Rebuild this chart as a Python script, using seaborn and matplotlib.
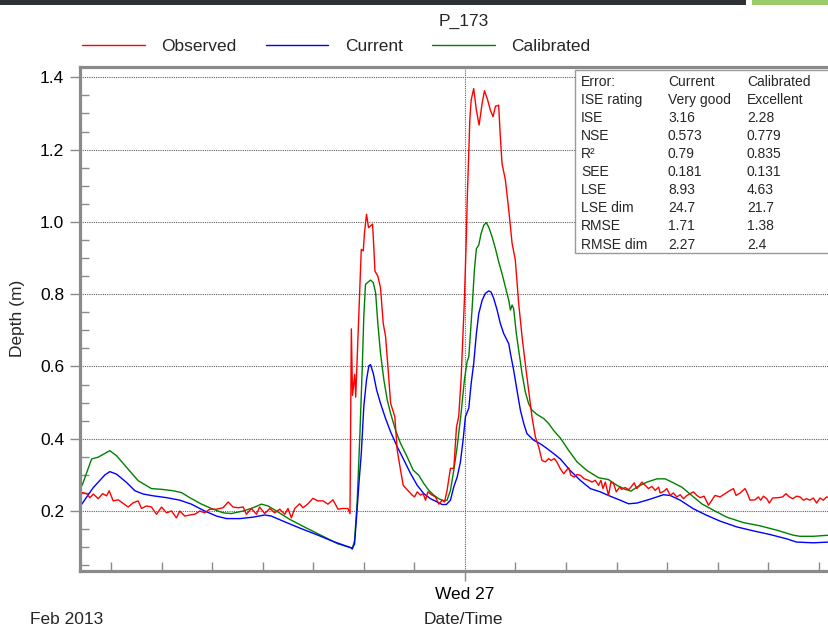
import matplotlib
matplotlib.use("Agg")
import numpy as np
import pandas as pd
import seaborn as sns
import matplotlib.pyplot as plt
import matplotlib.dates as mdates
from matplotlib.ticker import MultipleLocator, FormatStrFormatter
from matplotlib.patches import Rectangle
from matplotlib.lines import Line2D

# ---------------- data (hours after 2013-02-26 00:00, depth in m) ----------------
obs_hours = [1.2, 1.31, 1.55, 1.75, 1.95, 2.24, 2.50, 2.74, 2.89, 3.13, 3.43, 3.72, 4.02, 4.32, 4.61,
             4.81, 5.11, 5.40, 5.70, 6.00, 6.29, 6.59, 6.88, 7.08, 7.38, 7.67, 7.97, 8.27, 8.56,
             8.86, 9.26, 9.65, 9.95, 10.24, 10.54, 10.84, 11.03, 11.33, 11.63, 11.82, 12.12, 12.42,
             12.71, 13.01, 13.31, 13.50, 13.70, 13.90, 14.19, 14.39, 14.69, 14.98, 15.28, 15.58,
             15.87, 16.17, 16.47, 16.76, 17.06, 17.18, 17.26, 17.33, 17.46, 17.52, 17.85, 17.97,
             18.04, 18.16, 18.28, 18.40, 18.52, 18.60, 18.66, 18.83, 18.99, 19.15, 19.29, 19.43,
             19.59, 19.84, 19.98, 20.18, 20.34, 20.57, 20.87, 21.01, 21.17, 21.36, 21.52, 21.66,
             21.80, 22.05, 22.25, 22.45, 22.65, 22.79, 22.94, 23.14, 23.34, 23.50, 23.63, 23.77,
             23.89, 23.97, 24.09, 24.13, 24.29, 24.37, 24.52, 24.68, 24.84, 25.02, 25.16, 25.35,
             25.51, 25.67, 25.81, 26.00, 26.10, 26.20, 26.40, 26.60, 26.80, 26.99, 27.19, 27.39,
             27.58, 27.78, 27.98, 28.18, 28.38, 28.57, 28.77, 28.97, 29.11, 29.30, 29.46, 29.66,
             29.86, 30.01, 30.15, 30.29, 30.49, 30.65, 30.84, 31.08, 31.34, 31.54, 31.73, 31.93,
             32.07, 32.19, 32.33, 32.52, 32.66, 32.82, 32.98, 33.18, 33.31, 33.51, 33.71, 33.85,
             34.04, 34.20, 34.50, 34.70, 34.89, 35.09, 35.29, 35.49, 35.58, 35.78, 35.98, 36.18,
             36.37, 36.57, 36.77, 36.97, 37.17, 37.36, 37.56, 37.76, 37.96, 38.19, 38.45, 38.65,
             38.84, 39.14, 39.44, 39.73, 39.93, 40.09, 40.33, 40.62, 40.72, 40.92, 41.21, 41.41,
             41.55, 41.71, 41.91, 42.06, 42.26, 42.60, 42.85, 43.05, 43.25, 43.45, 43.68, 43.88,
             44.08, 44.28, 44.47, 44.67, 44.87, 45.07, 45.26, 45.46, 45.60, 45.90, 46.20, 46.70]
obs_depth = [0.245, 0.251, 0.248, 0.237, 0.247, 0.234, 0.248, 0.242, 0.256, 0.228, 0.231, 0.221, 0.211,
             0.223, 0.228, 0.207, 0.214, 0.211, 0.191, 0.211, 0.195, 0.200, 0.181, 0.200, 0.186,
             0.189, 0.191, 0.200, 0.195, 0.205, 0.205, 0.209, 0.225, 0.211, 0.209, 0.211, 0.191,
             0.207, 0.191, 0.211, 0.193, 0.207, 0.195, 0.205, 0.191, 0.207, 0.181, 0.207, 0.220,
             0.209, 0.220, 0.235, 0.228, 0.228, 0.219, 0.231, 0.205, 0.207, 0.207, 0.193, 0.704,
             0.520, 0.578, 0.515, 0.924, 0.920, 0.970, 1.021, 0.984, 0.989, 0.994, 0.924, 0.864,
             0.850, 0.818, 0.720, 0.683, 0.600, 0.498, 0.461, 0.369, 0.313, 0.271, 0.259, 0.244,
             0.239, 0.253, 0.244, 0.248, 0.230, 0.253, 0.244, 0.239, 0.219, 0.230, 0.225, 0.257,
             0.318, 0.318, 0.433, 0.461, 0.563, 0.693, 0.785, 0.970, 1.051, 1.282, 1.337, 1.369,
             1.309, 1.268, 1.328, 1.363, 1.337, 1.309, 1.291, 1.320, 1.323, 1.236, 1.162, 1.116,
             1.033, 0.940, 0.894, 0.774, 0.682, 0.608, 0.534, 0.460, 0.405, 0.377, 0.340, 0.336,
             0.345, 0.340, 0.345, 0.335, 0.317, 0.303, 0.312, 0.320, 0.299, 0.294, 0.301, 0.299,
             0.289, 0.285, 0.280, 0.285, 0.271, 0.285, 0.262, 0.280, 0.243, 0.280, 0.276, 0.253,
             0.266, 0.260, 0.265, 0.259, 0.266, 0.278, 0.262, 0.280, 0.271, 0.262, 0.268, 0.257,
             0.266, 0.250, 0.254, 0.262, 0.243, 0.250, 0.239, 0.245, 0.234, 0.243, 0.248, 0.253,
             0.243, 0.237, 0.241, 0.216, 0.230, 0.243, 0.239, 0.248, 0.257, 0.262, 0.243, 0.250,
             0.262, 0.253, 0.230, 0.231, 0.239, 0.230, 0.241, 0.234, 0.222, 0.236, 0.237, 0.239,
             0.248, 0.239, 0.234, 0.241, 0.239, 0.230, 0.234, 0.230, 0.236, 0.222, 0.236, 0.230,
             0.239, 0.237, 0.232, 0.238, 0.233]

cur_hours = [1.2, 1.31, 1.95, 2.64, 2.93, 3.33, 3.92, 4.42, 4.91, 5.50, 6.29, 7.08, 7.77, 8.56, 9.26,
             9.85, 10.64, 11.43, 12.12, 12.51, 13.21, 14.19, 15.18, 16.17, 17.26, 17.31, 17.45,
             17.57, 17.71, 17.85, 18.00, 18.16, 18.30, 18.40, 18.56, 18.76, 18.99, 19.29, 19.59,
             19.98, 20.38, 20.77, 21.17, 21.56, 21.96, 22.35, 22.65, 22.90, 23.14, 23.34, 23.54,
             23.73, 23.89, 24.03, 24.23, 24.37, 24.52, 24.68, 24.82, 25.02, 25.21, 25.41, 25.55,
             25.71, 25.91, 26.10, 26.30, 26.60, 26.70, 26.89, 27.09, 27.29, 27.49, 27.68, 27.88,
             28.08, 28.47, 28.87, 29.26, 29.66, 30.25, 30.84, 31.44, 32.03, 32.62, 33.21, 33.71,
             34.20, 34.80, 35.39, 35.78, 36.18, 36.77, 37.56, 38.35, 39.14, 40.13, 41.12, 42.10,
             43.09, 43.68, 44.67, 45.56, 46.70]
cur_depth = [0.215, 0.222, 0.265, 0.300, 0.309, 0.302, 0.279, 0.256, 0.247, 0.242, 0.237, 0.230, 0.219,
             0.200, 0.186, 0.179, 0.179, 0.183, 0.189, 0.186, 0.172, 0.153, 0.135, 0.116, 0.098,
             0.095, 0.109, 0.183, 0.276, 0.359, 0.489, 0.563, 0.602, 0.605, 0.581, 0.535, 0.498,
             0.456, 0.419, 0.378, 0.341, 0.304, 0.271, 0.248, 0.234, 0.225, 0.218, 0.218, 0.230,
             0.267, 0.294, 0.335, 0.396, 0.461, 0.485, 0.553, 0.608, 0.691, 0.746, 0.783, 0.802,
             0.809, 0.806, 0.788, 0.756, 0.719, 0.691, 0.663, 0.636, 0.590, 0.534, 0.479, 0.442,
             0.414, 0.405, 0.396, 0.386, 0.373, 0.359, 0.344, 0.312, 0.285, 0.262, 0.253, 0.241,
             0.230, 0.220, 0.222, 0.230, 0.239, 0.245, 0.243, 0.230, 0.206, 0.188, 0.172, 0.156,
             0.145, 0.135, 0.123, 0.114, 0.112, 0.114, 0.115]

cal_hours = [1.2, 1.31, 1.85, 2.24, 2.93, 3.33, 3.92, 4.61, 5.11, 5.40, 6.00, 6.69, 7.18, 7.67, 8.37,
             9.06, 9.65, 10.14, 10.84, 11.43, 11.92, 12.32, 12.81, 13.60, 14.59, 15.58, 16.47,
             17.26, 17.31, 17.45, 17.61, 17.77, 17.91, 18.00, 18.10, 18.24, 18.40, 18.56, 18.70,
             18.83, 18.99, 19.19, 19.39, 19.59, 19.88, 20.18, 20.57, 20.93, 21.26, 21.56, 21.86,
             22.15, 22.45, 22.75, 22.94, 23.14, 23.34, 23.54, 23.77, 23.97, 24.13, 24.23, 24.42,
             24.56, 24.68, 24.82, 24.96, 25.12, 25.27, 25.41, 25.61, 25.81, 26.00, 26.20, 26.40,
             26.60, 26.70, 26.80, 26.89, 27.05, 27.19, 27.39, 27.58, 27.78, 27.98, 28.28, 28.67,
             28.97, 29.26, 29.66, 30.15, 30.65, 31.24, 31.93, 32.52, 33.02, 33.51, 33.85, 34.20,
             34.80, 35.39, 35.88, 36.28, 36.87, 37.46, 38.05, 38.75, 39.54, 40.52, 41.51, 42.50,
             43.49, 43.88, 44.67, 45.56, 46.70]
cal_depth = [0.265, 0.274, 0.344, 0.349, 0.367, 0.353, 0.321, 0.284, 0.270, 0.262, 0.260, 0.256, 0.251,
             0.237, 0.219, 0.205, 0.195, 0.193, 0.200, 0.209, 0.219, 0.214, 0.200, 0.177, 0.153,
             0.130, 0.109, 0.098, 0.095, 0.118, 0.230, 0.415, 0.600, 0.739, 0.827, 0.833, 0.839,
             0.832, 0.804, 0.720, 0.637, 0.563, 0.507, 0.470, 0.424, 0.387, 0.350, 0.313, 0.299,
             0.276, 0.257, 0.244, 0.234, 0.228, 0.230, 0.257, 0.313, 0.378, 0.470, 0.563, 0.614,
             0.627, 0.756, 0.866, 0.926, 0.936, 0.968, 0.991, 0.998, 0.986, 0.959, 0.926, 0.890,
             0.857, 0.820, 0.783, 0.756, 0.770, 0.760, 0.691, 0.645, 0.580, 0.530, 0.497, 0.479,
             0.467, 0.456, 0.442, 0.423, 0.402, 0.368, 0.336, 0.312, 0.292, 0.287, 0.271, 0.260,
             0.255, 0.266, 0.280, 0.289, 0.289, 0.280, 0.266, 0.243, 0.220, 0.202, 0.183, 0.168,
             0.159, 0.147, 0.133, 0.130, 0.130, 0.133, 0.135]

series_names = ["Observed", "Current", "Calibrated"]
series_colors = ["#ff0000", "#0000ff", "#008000"]

table_labels = ["Error:", "ISE rating", "ISE", "NSE", "R²", "SEE", "LSE", "LSE dim", "RMSE", "RMSE dim"]
table_current = ["Current", "Very good", "3.16", "0.573", "0.79", "0.181", "8.93", "24.7", "1.71", "2.27"]
table_calibrated = ["Calibrated", "Excellent", "2.28", "0.779", "0.835", "0.131", "4.63", "21.7", "1.38", "2.4"]

# ---------------- build frame ----------------
base = pd.Timestamp("2013-02-26 00:00")
frames = []
for name, hrs, dep in [("Calibrated", cal_hours, cal_depth),
                       ("Current", cur_hours, cur_depth),
                       ("Observed", obs_hours, obs_depth)]:
    frames.append(pd.DataFrame({"Time": base + pd.to_timedelta(hrs, unit="h"),
                                "Depth": dep, "Series": name}))
df = pd.concat(frames, ignore_index=True)
palette = dict(zip(series_names, series_colors))

sns.set_style("white")
plt.rcParams["font.family"] = ["Liberation Sans", "DejaVu Sans"]

W, H = 829, 629
fig = plt.figure(figsize=(W / 100, H / 100), dpi=100)
ax_l, ax_r, ax_t, ax_b = 80, 847, 66.5, 571
ax = fig.add_axes([ax_l / W, 1 - ax_b / H, (ax_r - ax_l) / W, (ax_b - ax_t) / H])

sns.lineplot(data=df, x="Time", y="Depth", hue="Series",
             hue_order=["Calibrated", "Current", "Observed"], palette=palette,
             estimator=None, sort=False, linewidth=1.0, legend=False, ax=ax)

ax.set_xlim(base + pd.Timedelta(hours=1.16), base + pd.Timedelta(hours=46.67))
ax.set_ylim(0.034, 1.43)

gray = "#8a8a8a"
for s in ax.spines.values():
    s.set_color(gray)
    s.set_linewidth(2.3)

ax.xaxis.set_major_locator(mdates.DayLocator())
ax.xaxis.set_major_formatter(mdates.DateFormatter("%a %d"))
ax.xaxis.set_minor_locator(mdates.HourLocator(byhour=range(0, 24, 3)))
ax.yaxis.set_major_locator(MultipleLocator(0.2))
ax.yaxis.set_minor_locator(MultipleLocator(0.05))
ax.yaxis.set_major_formatter(FormatStrFormatter("%.1f"))

ax.tick_params(axis="both", which="both", bottom=True, left=True, top=False, right=False)
ax.tick_params(axis="both", which="major", direction="out", length=7.5, width=1,
               color=gray, labelsize=12.5, pad=4, labelcolor="black")
ax.tick_params(axis="both", which="minor", direction="in", length=6.5, width=1, color=gray)

ax.grid(True, which="major", color="#606060", linestyle=(0, (1, 1)), linewidth=0.8)
ax.set_axisbelow(True)

ax.set_xlabel("Date/Time", fontsize=12.5)
ax.xaxis.set_label_coords(0.5, -(620 - ax_b) / (ax_b - ax_t))
ax.xaxis.label.set_va("center")
ax.set_ylabel("Depth (m)", fontsize=12.5)
ax.yaxis.set_label_coords(-(ax_l - 18) / (ax_r - ax_l), 0.5)
ax.yaxis.label.set_va("center")

fig.text(463.5 / W, 1 - 21 / H, "P_173", ha="center", va="center", fontsize=12.5)
fig.text(30 / W, 1 - 619 / H, "Feb 2013", ha="left", va="center", fontsize=12.5)

# legend
handles = [Line2D([], [], color=c, lw=1.0) for c in series_colors]
fig.legend(handles, series_names, loc="center left", bbox_to_anchor=(82 / W, 1 - 46 / H),
           ncol=3, frameon=False, fontsize=12.5, handlelength=3.6, handletextpad=0.95,
           columnspacing=1.7, borderpad=0, borderaxespad=0)

# statistics box
box = Rectangle((575 / W, 1 - 253 / H), (880 - 575) / W, (253 - 70) / H,
                transform=fig.transFigure, facecolor="white", edgecolor="#9a9a9a",
                linewidth=1.0, zorder=5)
fig.add_artist(box)
for i, (a, b, c) in enumerate(zip(table_labels, table_current, table_calibrated)):
    y = 1 - (81.7 + i * 18.1) / H
    for x, t in [(581, a), (668, b), (747, c)]:
        fig.text(x / W, y, t, ha="left", va="center", fontsize=10, zorder=6)

# screenshot header strip
fig.add_artist(Rectangle((0, 1 - 5 / H), 746 / W, 5 / H, transform=fig.transFigure,
                         facecolor="#2e3236", edgecolor="none", zorder=7))
fig.add_artist(Rectangle((752 / W, 1 - 5 / H), (W - 752) / W, 5 / H, transform=fig.transFigure,
                         facecolor="#9ccc6a", edgecolor="none", zorder=7))

fig.savefig("out.png", dpi=100)
